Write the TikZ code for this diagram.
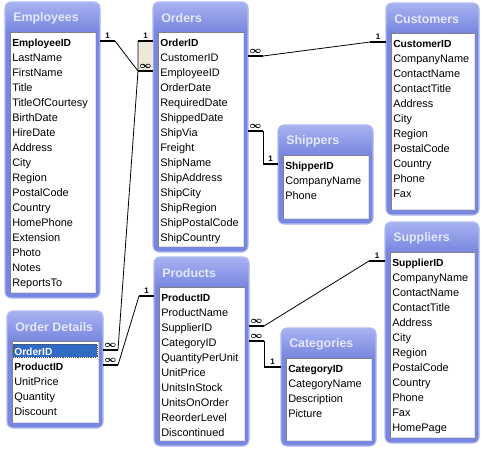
\documentclass[tikz,border=0pt]{standalone}
\usepackage{fontspec}
\setmainfont{Liberation Sans}
\definecolor{frameblue}{RGB}{120,134,224}
\definecolor{headblue}{RGB}{168,178,240}
\definecolor{edgeblue}{RGB}{176,186,240}
\definecolor{titletext}{RGB}{226,233,250}
\definecolor{selblue}{RGB}{49,106,197}
\definecolor{xpbeige}{RGB}{236,233,216}
\tikzset{%
    field/.style={inner sep=0pt, anchor=base west, font=\fontsize{8.2}{9}\selectfont},
    keyfield/.style={field, font=\fontsize{7.7}{9}\selectfont\bfseries},
    tabletitle/.style={inner sep=0pt, anchor=west, text=titletext,
        font=\fontsize{9.3}{10}\selectfont\bfseries},
    stub/.style={line width=2.2pt},
    link/.style={line width=0.6pt},
    one/.style={above=0.5pt, inner sep=0.5pt, font=\fontsize{6}{6}\selectfont\bfseries},
    many/.style={above=0pt, inner sep=0.5pt, font=\boldmath\scriptsize}
}
% #1 name, #2 title, #3/#4 left/right, #5/#6 top/bottom,
% #7 key fields, #8 selected row, #9 fields
\newcommand\dbtable[9]{%
    \fill[frameblue, rounded corners=4.5pt] (#3,#5) rectangle (#4,#6);
    \shade[top color=headblue, bottom color=frameblue, rounded corners=4.5pt] (#3,#5) rectangle (#4,#5+30);
    \draw[edgeblue, line width=0.8pt, rounded corners=4.5pt] (#3,#5) rectangle (#4,#6);
    \node[tabletitle] (#1-title) at (#3+8,#5+16) {#2};
    \fill[white] (#3+5,#5+30) rectangle (#4-4,#6-5);
    \draw[black!50] (#3+5.5,#6-5) |- (#4-4,#5+30.5);
    \draw[black!12] (#3+5.5,#6-5.5) -| (#4-4.5,#5+31);
    \foreach \f [count=\i] in {#9} {
        \tikzset{rowstyle/.style={field}}
        \ifnum\i>#7 \else\tikzset{rowstyle/.style={keyfield}}\fi
        \ifnum\i=#8
            \tikzset{rowstyle/.style={keyfield, text=white}}
            \fill[selblue] (#3+6,#5+18+15*\i) rectangle (#4-6,#5+31+15*\i);
            \draw[densely dotted, black!70] (#3+6,#5+18+15*\i) rectangle (#4-6,#5+31+15*\i);
        \fi
        \coordinate (#1-L\i) at (#3,#5+24+15*\i);
        \coordinate (#1-R\i) at (#4,#5+24+15*\i);
        \node[rowstyle] (#1-\i) at (#3+7,#5+29+15*\i) {\f};
    }
}

\begin{document}
\begin{tikzpicture}[x=0.75pt, y=-0.75pt]
    \useasboundingbox (0,0) rectangle (485,454);
    \fill[white] (0,0) rectangle (485,454);

    \dbtable{emp}{Employees}{5}{100}{2}{298}{1}{0}{EmployeeID,LastName,FirstName,Title,TitleOfCourtesy,BirthDate,HireDate,Address,City,Region,PostalCode,Country,HomePhone,Extension,Photo,Notes,ReportsTo}
    \dbtable{ord}{Orders}{153}{248}{2}{252}{1}{0}{OrderID,CustomerID,EmployeeID,OrderDate,RequiredDate,ShippedDate,ShipVia,Freight,ShipName,ShipAddress,ShipCity,ShipRegion,ShipPostalCode,ShipCountry}
    \dbtable{cus}{Customers}{386}{479}{3}{215}{1}{0}{CustomerID,CompanyName,ContactName,ContactTitle,Address,City,Region,PostalCode,Country,Phone,Fax}
    \dbtable{shp}{Shippers}{278}{373}{125}{224}{1}{0}{ShipperID,CompanyName,Phone}
    \dbtable{sup}{Suppliers}{385}{479}{222}{443}{1}{0}{SupplierID,CompanyName,ContactName,ContactTitle,Address,City,Region,PostalCode,Country,Phone,Fax,HomePage}
    \dbtable{cat}{Categories}{281}{376}{328}{446}{1}{0}{CategoryID,CategoryName,Description,Picture}
    \dbtable{prd}{Products}{154}{249}{257}{446}{1}{0}{ProductID,ProductName,SupplierID,CategoryID,QuantityPerUnit,UnitPrice,UnitsInStock,UnitsOnOrder,ReorderLevel,Discontinued}
    \dbtable{od}{Order Details}{7}{103}{311}{428}{2}{1}{OrderID,ProductID,UnitPrice,Quantity,Discount}

    % Employees -- Orders -- Order Details
    \path (ord-L1) ++(-15,0) coordinate (ord-s1);
    \fill[xpbeige] (ord-s1) rectangle (ord-L3);
    \draw[stub] (emp-R1) -- node[one]{1} ++(15,0) coordinate (emp-s1);
    \draw[stub] (ord-L1) -- node[one]{1} (ord-s1);
    \draw[stub] (ord-L3) -- node[many]{$\infty$} ++(-15,0) coordinate (ord-s3);
    \draw[link] (emp-s1) -- (ord-s3);
    \draw[stub] (od-R1) -- node[many]{$\infty$} ++(15,0) coordinate (od-s1);
    \draw[link] (ord-s1) -- (ord-s3) -- (od-s1);

    % Order Details -- Products
    \draw[stub] (od-R2) -- node[many]{$\infty$} ++(15,0) coordinate (od-s2);
    \draw[stub] (prd-L1) -- node[one]{1} ++(-15,0) coordinate (prd-s1);
    \draw[link] (od-s2) -- (prd-s1);

    % Orders -- Customers, Shippers
    \draw[stub] (ord-R2) -- node[many]{$\infty$} ++(15,0) coordinate (ord-s2);
    \draw[stub] (cus-L1) -- node[one]{1} ++(-16,0) coordinate (cus-s1);
    \draw[link] (ord-s2) -- (cus-s1);
    \draw[stub] (ord-R7) -- node[many]{$\infty$} ++(15,0) coordinate (ord-s7);
    \draw[stub] (shp-L1) -- node[one]{1} (ord-s7 |- shp-L1) coordinate (shp-s1);
    \draw[link] (ord-s7) -- (shp-s1);

    % Products -- Suppliers, Categories
    \draw[stub] (prd-R3) -- node[many]{$\infty$} ++(15,0) coordinate (prd-s3);
    \draw[stub] (sup-L1) -- node[one]{1} ++(-16,0) coordinate (sup-s1);
    \draw[link] (prd-s3) -- (sup-s1);
    \draw[stub] (prd-R4) -- node[many]{$\infty$} ++(15,0) coordinate (prd-s4);
    \draw[stub] (cat-L1) -- node[one]{1} (prd-s4 |- cat-L1) coordinate (cat-s1);
    \draw[link] (prd-s4) -- (cat-s1);
\end{tikzpicture}
\end{document}
